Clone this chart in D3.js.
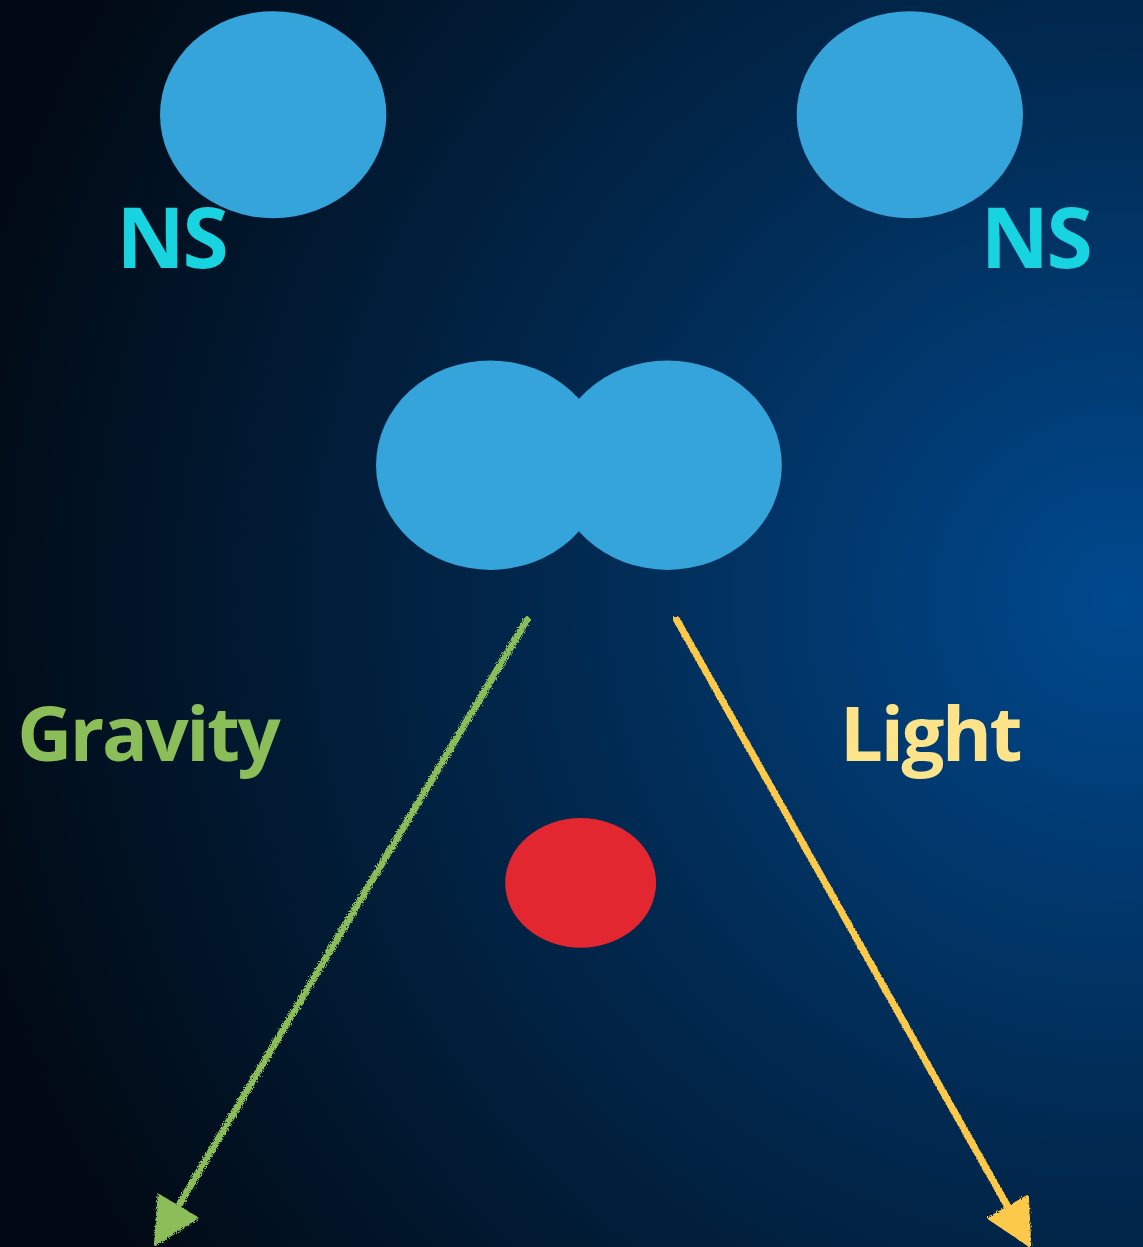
<!DOCTYPE html>
<html>
<head>
<meta charset="utf-8">
<script src="https://cdn.jsdelivr.net/npm/d3@7"></script>
<style>
  html, body { margin: 0; padding: 0; overflow: hidden; }
  #paper { width: 1143px; height: 1247px; }
</style>
</head>
<body>
<div id="paper"></div>
<script>
// merger sketch: two neutron stars, the merged pair, gravity and light going out

const width = 1143;
const height = 1247;

// bodies, in sketch units (x 0..100, y 0..100)
const bodyNames = ["NS", "NS", "merge-left", "merge-right", "observer"];
const bodyX = [23.9, 79.6, 42.9, 58.4, 50.8];
const bodyY = [9.2, 9.2, 37.3, 37.3, 70.8];
const bodyRx = [9.9, 9.9, 10.0, 10.0, 6.6];
const bodyRy = [8.3, 8.3, 8.4, 8.4, 5.2];
const bodyKind = ["star", "star", "star", "star", "target"];

// labels
const labelText = ["NS", "NS", "Gravity", "Light"];
const labelX = [10.2, 85.8, 1.5, 73.5];
const labelY = [21.5, 21.5, 61.0, 61.0];
const labelKind = ["ns", "ns", "gravity", "light"];

// signals leaving the merger
const signalNames = ["Gravity", "Light"];
const signalFrom = [[46.1, 49.7], [59.2, 49.7]];
const signalTo = [[13.6, 99.8], [90.1, 99.9]];

const colour = {
  star: "#35a4db",
  target: "#e22731",
  ns: "#17d4e0",
  gravity: "#8bbd59",
  light: "#fde38a",
  lightArrow: "#fcc94c",
};

const x = d3.scaleLinear().domain([0, 100]).range([0, width]);
const y = d3.scaleLinear().domain([0, 100]).range([0, height]);

const svg = d3
  .select("#paper")
  .append("svg")
  .attr("width", width)
  .attr("height", height);

const defs = svg.append("defs");

const bg = defs
  .append("radialGradient")
  .attr("id", "bg")
  .attr("gradientUnits", "userSpaceOnUse")
  .attr("cx", 1120)
  .attr("cy", 600)
  .attr("r", 1180);
bg.append("stop").attr("offset", "0%").attr("stop-color", "#00498e");
bg.append("stop").attr("offset", "45%").attr("stop-color", "#012a52");
bg.append("stop").attr("offset", "100%").attr("stop-color", "#010a14");

// chalky stroke
const rough = defs.append("filter").attr("id", "rough")
  .attr("x", "-20%").attr("y", "-20%").attr("width", "140%").attr("height", "140%");
rough.append("feTurbulence")
  .attr("type", "fractalNoise")
  .attr("baseFrequency", 0.8)
  .attr("numOctaves", 2)
  .attr("result", "noise");
rough.append("feDisplacementMap")
  .attr("in", "SourceGraphic")
  .attr("in2", "noise")
  .attr("scale", 5);

svg.append("rect")
  .attr("width", width)
  .attr("height", height)
  .attr("fill", "url(#bg)");

const bodies = bodyNames.map((n, i) => ({
  name: n, cx: bodyX[i], cy: bodyY[i], rx: bodyRx[i], ry: bodyRy[i], kind: bodyKind[i],
}));

svg.append("g")
  .selectAll("ellipse")
  .data(bodies)
  .join("ellipse")
  .attr("cx", (d) => x(d.cx))
  .attr("cy", (d) => y(d.cy))
  .attr("rx", (d) => x(d.rx))
  .attr("ry", (d) => y(d.ry))
  .attr("fill", (d) => colour[d.kind]);

const labels = labelText.map((t, i) => ({ text: t, x: labelX[i], y: labelY[i], kind: labelKind[i] }));

svg.append("g")
  .selectAll("text")
  .data(labels)
  .join("text")
  .attr("x", (d) => x(d.x))
  .attr("y", (d) => y(d.y))
  .attr("font-family", "'Open Sans', sans-serif")
  .attr("font-weight", 700)
  .attr("font-size", (d) => (d.kind == "ns" ? 84 : 76))
  .attr("letter-spacing", -2.4)
  .attr("fill", (d) => colour[d.kind])
  .text((d) => d.text);

const signals = signalNames.map((n, i) => ({
  name: n, from: signalFrom[i], to: signalTo[i],
  col: n == "Gravity" ? colour.gravity : colour.lightArrow,
}));

const arrows = svg.append("g").attr("filter", "url(#rough)");

signals.forEach((s) => {
  const x1 = x(s.from[0]), y1 = y(s.from[1]);
  const x2 = x(s.to[0]), y2 = y(s.to[1]);
  const ang = Math.atan2(y2 - y1, x2 - x1);
  const head = 44;
  const bx = x2 - head * Math.cos(ang), by = y2 - head * Math.sin(ang);

  arrows.append("line")
    .attr("x1", x1).attr("y1", y1)
    .attr("x2", bx).attr("y2", by)
    .attr("stroke", s.col)
    .attr("stroke-width", 7)
    .attr("stroke-linecap", "round");

  const w = 22;
  const px = -Math.sin(ang), py = Math.cos(ang);
  const pts = [
    [x2, y2],
    [bx + px * w, by + py * w],
    [bx - px * w, by - py * w],
  ];
  arrows.append("path")
    .attr("d", d3.line()(pts) + "Z")
    .attr("fill", s.col)
    .attr("stroke", s.col)
    .attr("stroke-width", 3)
    .attr("stroke-linejoin", "round");
});
</script>
</body>
</html>
